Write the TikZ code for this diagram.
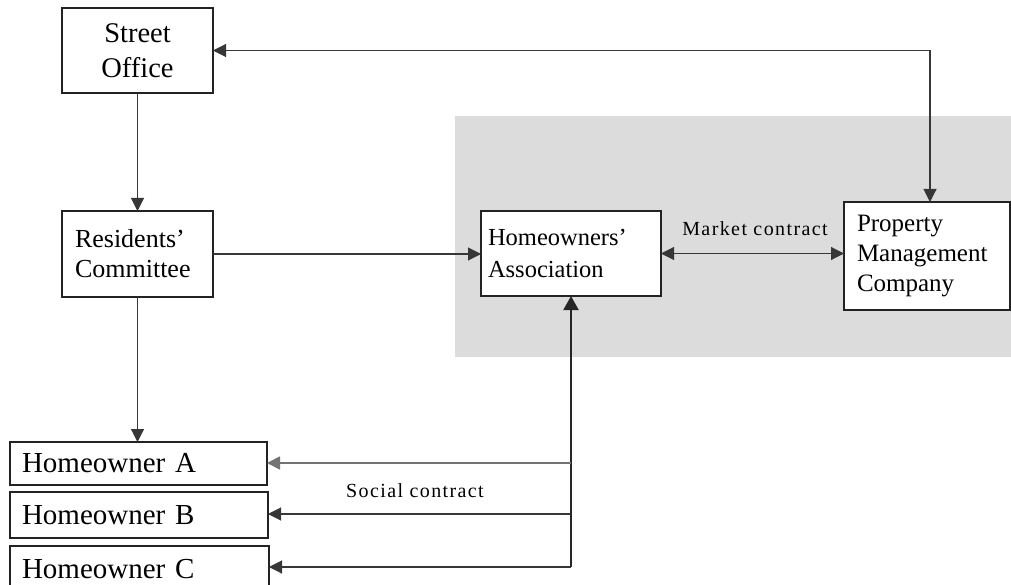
\documentclass[tikz,border=0pt]{standalone}
\usepackage{fontspec}
\setmainfont{Liberation Serif}
\newfontfamily\labelfont[LetterSpace=7]{Liberation Serif}
\usetikzlibrary{arrows.meta,calc}
\definecolor{panelgray}{RGB}{220,220,220}
\definecolor{linegray}{RGB}{55,55,55}
\definecolor{boxline}{RGB}{35,35,35}

\begin{document}
\begin{tikzpicture}[x=1pt,y=-1pt,
  box/.style={draw=boxline,line width=1.1pt,fill=white,outer sep=0pt,inner ysep=0pt},
  tip/.style={-{Triangle[length=13pt,width=13pt]}},
  link/.style={draw=linegray,line width=1.1pt,tip},
  twoway/.style={draw=linegray,line width=1.1pt,{Triangle[length=13pt,width=13pt]}-{Triangle[length=13pt,width=13pt]}},
  trunk/.style={draw=black!85,line width=2pt,-{Triangle[length=14pt,width=15pt]}},
  lbl/.style={inner sep=0pt,anchor=base,font=\labelfont\fontsize{20}{24}\selectfont}
]
\useasboundingbox (0,0) rectangle (1011,585);
\clip (0,0) rectangle (1011,585);

% shaded market area
\fill[panelgray] (455,116) rectangle (1011,357);

% boxes
\node[box,minimum width=151pt,minimum height=85pt,text width=151pt,inner xsep=0pt,align=center,
      font=\fontsize{28.5}{35}\selectfont] (SO) at (137.5,50.5) {Street\\Office};
\node[box,minimum width=151pt,minimum height=86pt,text width=125pt,inner xsep=13pt,align=left,
      font=\fontsize{26}{30}\selectfont] (RC) at (137.5,254) {Residents’\\Committee};
\node[box,minimum width=180pt,minimum height=85pt,text width=166pt,inner xsep=7pt,align=left,
      font=\fontsize{24.5}{32}\selectfont] (HA) at (571,253.5) {Homeowners’\\Association};
\node[box,minimum width=166pt,minimum height=108pt,text width=140pt,inner xsep=13pt,align=left,
      font=\fontsize{25}{30}\selectfont] (PMC) at (927,256) {Property\\Management\\Company};
\node[box,minimum width=257pt,minimum height=43pt,text width=233pt,inner xsep=12pt,align=left,
      font=\fontsize{29}{34}\selectfont] (A) at (138.5,463.5) {Homeowner A};
\node[box,minimum width=258pt,minimum height=46pt,text width=234pt,inner xsep=12pt,align=left,
      font=\fontsize{29}{34}\selectfont] (B) at (139,515) {Homeowner B};
\node[box,minimum width=259pt,minimum height=46pt,text width=235pt,inner xsep=12pt,align=left,
      font=\fontsize{29}{34}\selectfont] (C) at (139.5,569) {Homeowner C};

% junction points
\coordinate (pmctop) at ([xshift=3pt]PMC.north);
\coordinate (ja) at (571,463);
\coordinate (jb) at (571,514);
\coordinate (jc) at (571,567);

% connectors
\draw[link] (SO) -- (RC);
\draw[link] (RC) -- (RC.east -| HA.west);
\draw[link] (RC.south) -- (RC.south |- A.north);
\draw[twoway] (SO.east) -| (pmctop);
\draw[twoway] (HA.east) -- (HA.east -| PMC.west);
\draw[trunk] (jc) -- (HA.south);
\draw[link,draw=black!55,line width=1.8pt] (ja) -- (ja -| A.east);
\draw[link] (jb) -- (jb -| B.east);
\draw[link] (jc) -- (jc -| C.east);

% contract labels
\node[lbl] (mk) at (755,236) {Market contract};
\node[lbl] (sc) at (415,497) {Social contract};
\end{tikzpicture}
\end{document}
